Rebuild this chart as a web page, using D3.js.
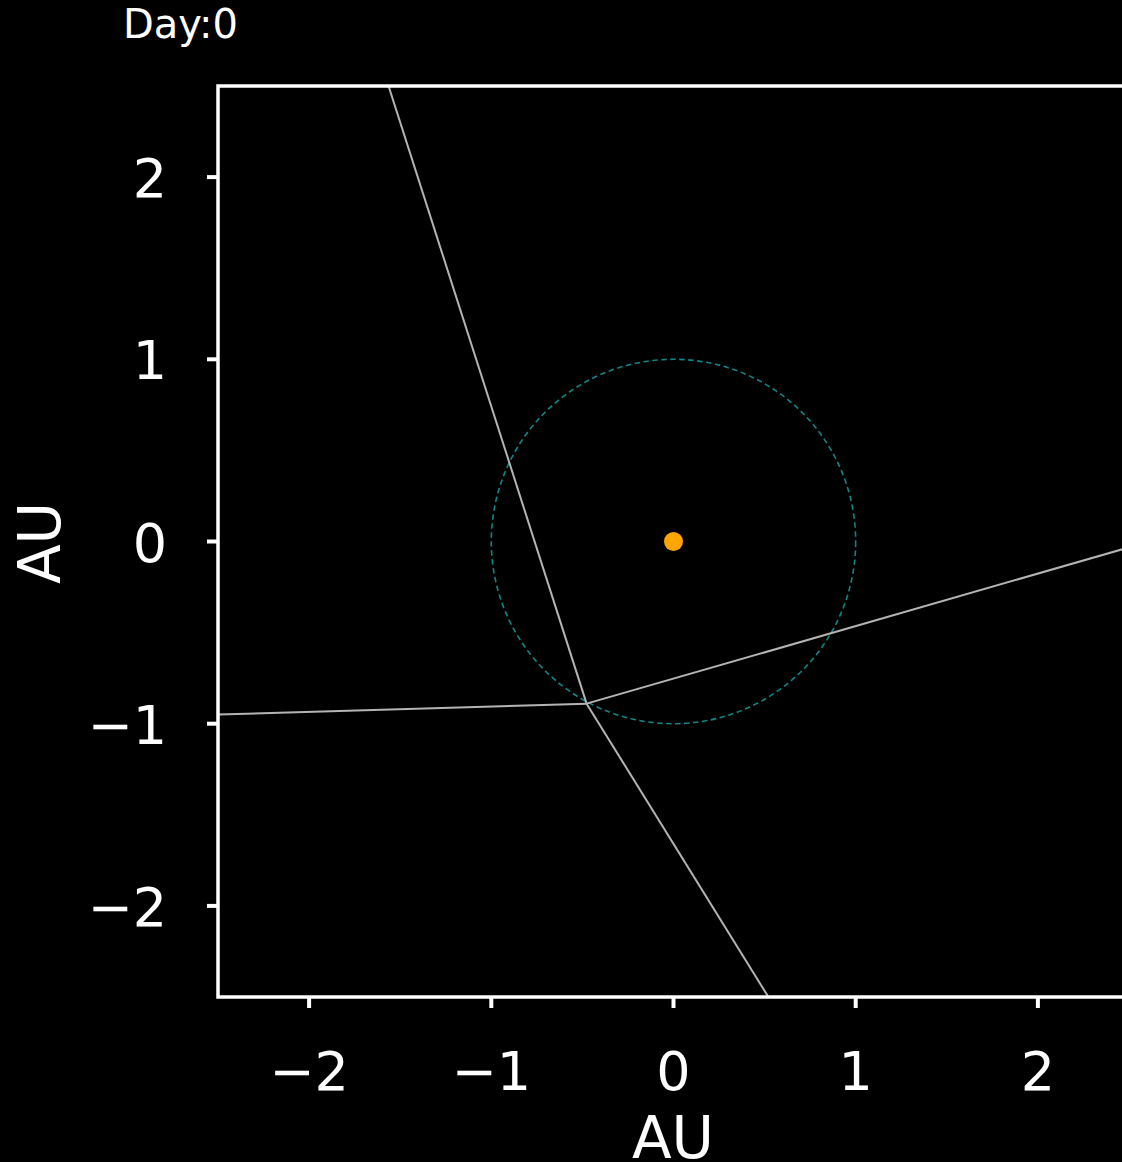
<!DOCTYPE html>
<html>
<head>
<meta charset="utf-8">
<script src="https://cdn.jsdelivr.net/npm/d3@7"></script>
<style>
  html, body { margin: 0; padding: 0; background: #000; }
  svg { display: block; font-family: "DejaVu Sans", sans-serif; }
</style>
</head>
<body>
<div id="chart"></div>
<script>
// chart data
const title = "Day:0";
const xTicks = [-2, -1, 0, 1, 2];
const yTicks = [-2, -1, 0, 1, 2];
const domain = [-2.5, 2.5];
// gray edges meeting at one vertex, each as [x, y] in AU
const vertex = [-0.477, -0.89];
const edgeEnds = [[-1.564, 2.5], [0.521, -2.5], [-2.5, -0.95], [2.5, -0.032]];
const orbitRadius = 1;
const sun = [0, 0];

const width = 1122, height = 1162;
const plotLeft = 218, plotTop = 86, plotSize = 911;

const svg = d3.select("#chart")
    .append("svg")
    .attr("width", width)
    .attr("height", height)
    .style("background", "#000");

const x = d3.scaleLinear().domain(domain).range([plotLeft, plotLeft + plotSize]);
const y = d3.scaleLinear().domain(domain).range([plotTop + plotSize, plotTop]);
const plotBottom = y(domain[0]);

svg.append("clipPath").attr("id", "plotclip")
    .append("rect")
    .attr("x", plotLeft).attr("y", plotTop)
    .attr("width", plotSize).attr("height", plotBottom - plotTop);

const plot = svg.append("g").attr("clip-path", "url(#plotclip)");

// dashed orbit
plot.append("circle")
    .attr("cx", x(0)).attr("cy", y(0))
    .attr("r", x(orbitRadius) - x(0))
    .attr("fill", "none")
    .attr("stroke", "#138585")
    .attr("stroke-width", 1.6)
    .attr("stroke-dasharray", "5.5,3.5");

// edges
const line = d3.line().x(d => x(d[0])).y(d => y(d[1]));
plot.selectAll("path.edge")
    .data(edgeEnds)
    .join("path")
    .attr("class", "edge")
    .attr("d", d => line([vertex, d]))
    .attr("fill", "none")
    .attr("stroke", "#b4b4b4")
    .attr("stroke-width", 2);

// sun
plot.append("circle")
    .attr("cx", x(sun[0])).attr("cy", y(sun[1]))
    .attr("r", 9.5)
    .attr("fill", "#ffa500");

// spines
svg.append("rect")
    .attr("x", plotLeft).attr("y", plotTop)
    .attr("width", plotSize).attr("height", plotBottom - plotTop)
    .attr("fill", "none")
    .attr("stroke", "#fff")
    .attr("stroke-width", 3.5);

const fmt = d => (d < 0 ? "\u2212" : "") + Math.abs(d);

// x axis
const xg = svg.append("g");
xg.selectAll("line")
    .data(xTicks)
    .join("line")
    .attr("x1", d => x(d)).attr("x2", d => x(d))
    .attr("y1", plotBottom).attr("y2", plotBottom + 11)
    .attr("stroke", "#fff").attr("stroke-width", 4);
xg.selectAll("text")
    .data(xTicks)
    .join("text")
    .attr("x", d => x(d))
    .attr("y", plotBottom + 93)
    .attr("text-anchor", "middle")
    .attr("fill", "#fff")
    .attr("font-size", 54)
    .text(fmt);

// y axis
const yg = svg.append("g");
yg.selectAll("line")
    .data(yTicks)
    .join("line")
    .attr("x1", plotLeft - 11).attr("x2", plotLeft)
    .attr("y1", d => y(d)).attr("y2", d => y(d))
    .attr("stroke", "#fff").attr("stroke-width", 4);
yg.selectAll("text")
    .data(yTicks)
    .join("text")
    .attr("x", plotLeft - 51)
    .attr("y", d => y(d) + 20)
    .attr("text-anchor", "end")
    .attr("fill", "#fff")
    .attr("font-size", 54)
    .text(fmt);

// axis labels
svg.append("text")
    .attr("x", 673).attr("y", 1158)
    .attr("text-anchor", "middle")
    .attr("fill", "#fff")
    .attr("font-size", 58)
    .text("AU");

svg.append("text")
    .attr("transform", "translate(60,543) rotate(-90)")
    .attr("text-anchor", "middle")
    .attr("fill", "#fff")
    .attr("font-size", 58)
    .text("AU");

// title
svg.append("text")
    .attr("x", 123).attr("y", 38)
    .attr("fill", "#fff")
    .attr("font-size", 40)
    .text(title);
</script>
</body>
</html>
